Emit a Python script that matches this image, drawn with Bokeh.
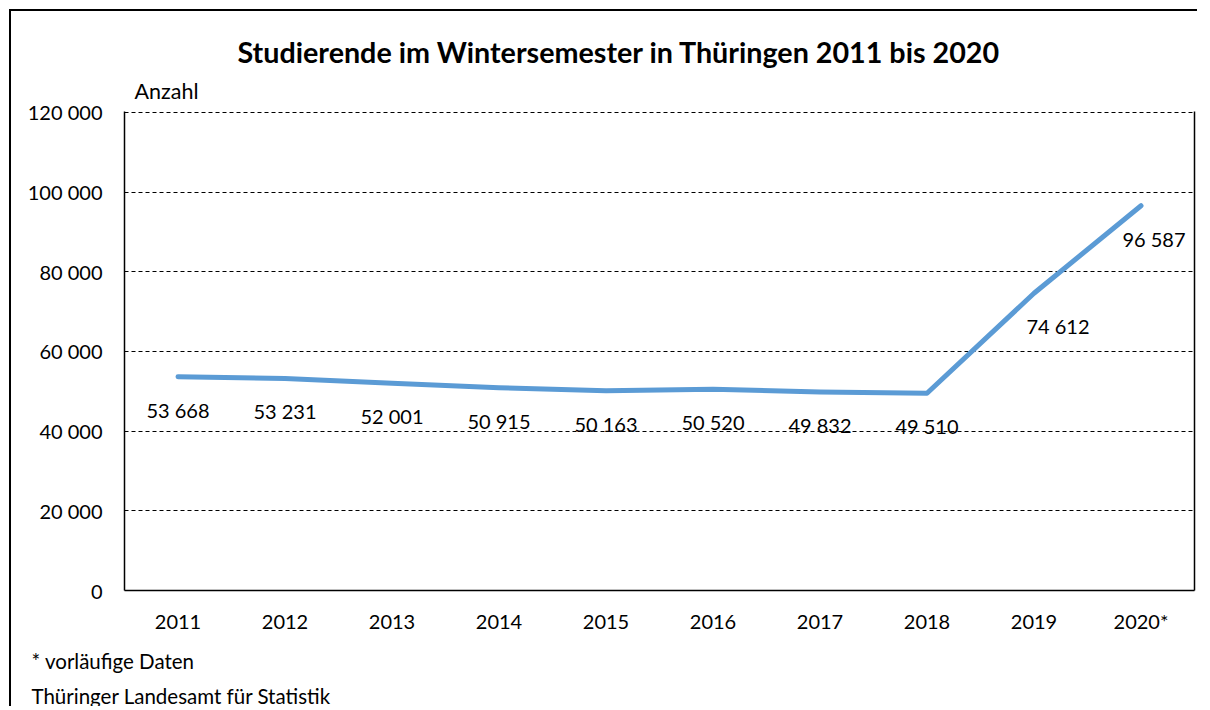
from bokeh.plotting import figure
from bokeh.models import (FactorRange, Range1d, FixedTicker, LinearAxis, Title,
                          ColumnDataSource)
from bokeh.core.properties import value
from bokeh.embed import file_html
from bokeh.resources import INLINE

# ---- data ----
years = ["2011", "2012", "2013", "2014", "2015", "2016", "2017", "2018", "2019", "2020*"]
students = [53668, 53231, 52001, 50915, 50163, 50520, 49832, 49510, 74612, 96587]
y_ticks = [0, 20000, 40000, 60000, 80000, 100000, 120000]
title_text = "Studierende im Wintersemester in Thüringen 2011 bis 2020"
y_unit = "Anzahl"
notes = ["* vorläufige Daten", "Thüringer Landesamt für Statistik"]

FONT = "Lato"
W, H = 1188, 697
# page coords of the frame
FL, FT, FR, FB = 123, 110, 1193, 589
OX, OY = 10, 10  # canvas origin on page

def fmt(v):
    return f"{v:,}".replace(",", " ")

p = figure(width=W, height=H, output_backend="svg", toolbar_location=None,
           x_range=FactorRange(factors=years, range_padding=0),
           y_range=Range1d(0, y_ticks[-1] * 1.002),
           min_border_left=FL - OX, min_border_right=W - (FR - OX),
           min_border_top=FT - OY, min_border_bottom=H - (FB - OY))
p.styles = {"border-left": "2px solid black", "border-top": "2px solid black",
            "margin-left": "9px", "margin-top": "9px"}
p.outline_line_color = None
p.background_fill_color = "white"
p.border_fill_color = "white"

# axes
p.yaxis.ticker = FixedTicker(ticks=y_ticks)
p.yaxis.major_label_overrides = {t: fmt(t) for t in y_ticks}
p.yaxis.major_tick_line_color = None
p.yaxis.minor_tick_line_color = None
p.yaxis.major_tick_out = 0
p.yaxis.major_label_standoff = 22
p.yaxis.axis_line_color = "black"
p.yaxis.axis_line_width = 1.5
p.yaxis.major_label_text_font = FONT
p.yaxis.major_label_text_font_size = "20px"
p.yaxis.major_label_text_color = "black"

p.xaxis.major_tick_line_color = None
p.xaxis.major_tick_out = 0
p.xaxis.major_label_standoff = 18
p.xaxis.axis_line_color = "black"
p.xaxis.axis_line_width = 1.5
p.xaxis.major_label_text_font = FONT
p.xaxis.major_label_text_font_size = "20px"
p.xaxis.major_label_text_color = "black"

right_axis = LinearAxis(ticker=FixedTicker(ticks=[]), major_tick_line_color=None,
                        minor_tick_line_color=None, major_label_text_font_size="0px",
                        axis_line_color="black", axis_line_width=1.5)
p.add_layout(right_axis, "right")

p.xgrid.grid_line_color = None
p.ygrid.ticker = FixedTicker(ticks=y_ticks[1:])
p.ygrid.grid_line_color = "black"
p.ygrid.grid_line_dash = "4 3"
p.ygrid.grid_line_width = 1

# line
p.line(x=years, y=students, line_width=5, line_color="#5B9BD5",
       line_cap="round", line_join="round")

# data labels
xo = [0] * 8 + [24, 13]
yo = [33] * 10
src = ColumnDataSource(dict(x=years, y=students, t=[fmt(v) for v in students],
                            xo=xo, yo=yo))
p.text(x="x", y="y", text="t", x_offset="xo", y_offset="yo", source=src,
       text_font=value(FONT), text_font_size="20px", text_color="black",
       text_align="center", text_baseline="middle")

# main title (outermost), unit label closest to the frame
p.title.text = title_text
p.title.align = "left"
p.title.offset = 236 - FL
p.title.text_font = FONT
p.title.text_font_size = "28.7px"
p.title.text_font_style = "bold"
p.title.text_color = "black"
p.title.standoff = 0

p.add_layout(Title(text=y_unit, align="left", offset=133 - FL,
                   text_font=FONT, text_font_size="21.5px", text_font_style="normal",
                   text_color="black", standoff=15), "above")

for i, note in enumerate(notes):
    p.add_layout(Title(text=note, align="left", offset=30 - FL,
                       text_font=FONT, text_font_size="20.5px", text_font_style="normal",
                       text_color="black", standoff=23 if i == 0 else -6), "below")

open("out.html", "w").write(file_html(p, INLINE))
